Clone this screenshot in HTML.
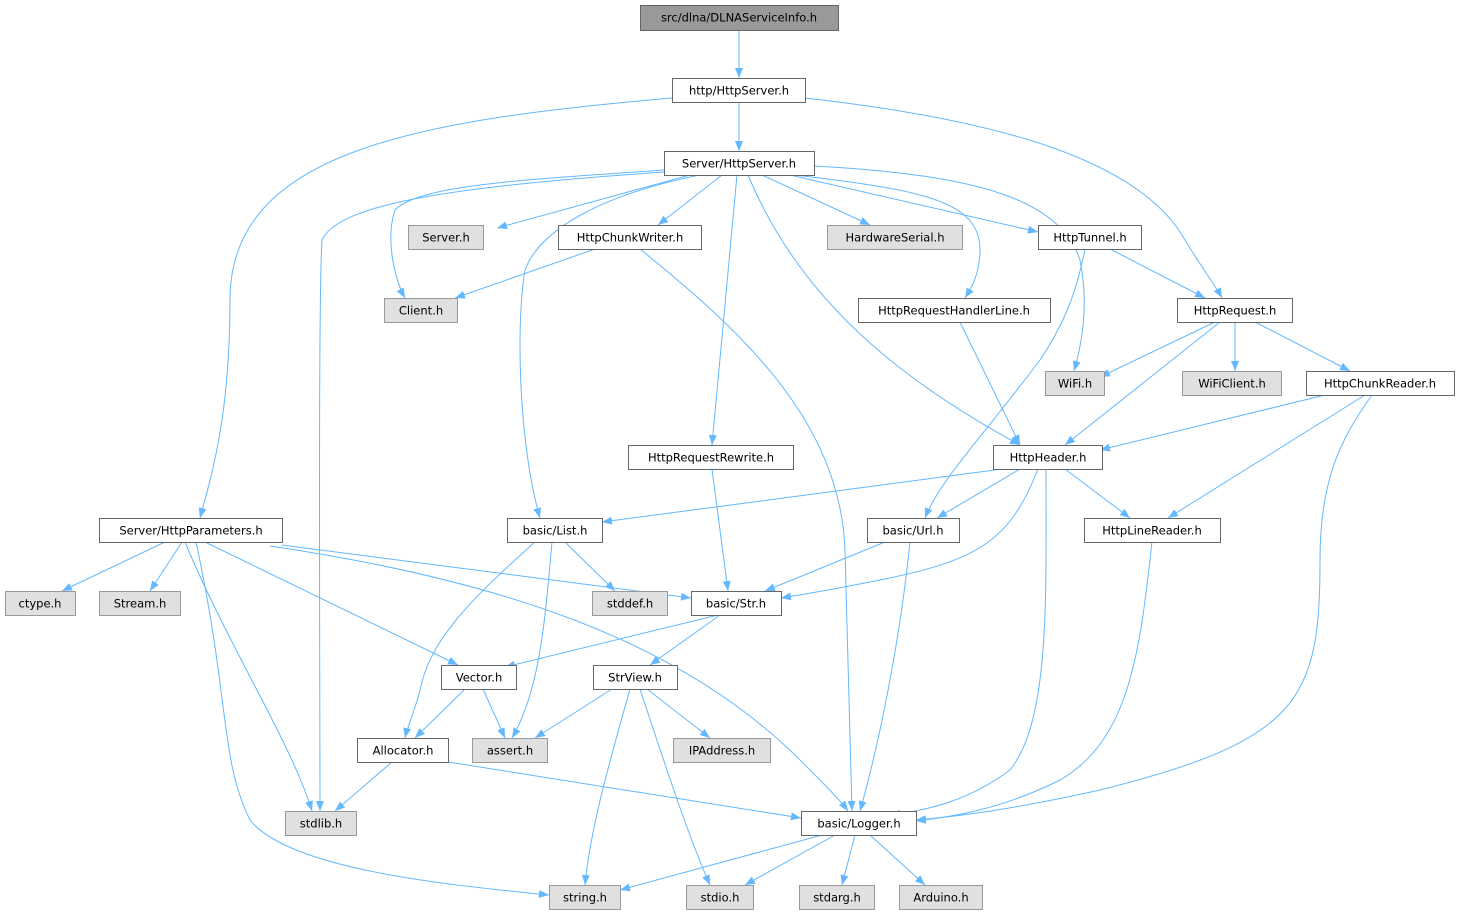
<!DOCTYPE html>
<html><head><meta charset="utf-8"><style>
html,body{margin:0;padding:0;background:#fff;}
svg{display:block}
text{font-family:"DejaVu Sans","Liberation Sans",sans-serif;font-size:11.5px;fill:#000;text-anchor:middle;dominant-baseline:central}
.n{fill:#fff;stroke:#666;stroke-width:1}
.g{fill:#e0e0e0;stroke:#999;stroke-width:1}
.r{fill:#999;stroke:#666;stroke-width:1}
path.e{fill:none;stroke:#63b8ff;stroke-width:1;marker-end:url(#a)}
</style></head><body>
<svg width="1460" height="916" viewBox="0 0 1460 916">
<defs><marker id="a" markerWidth="12" markerHeight="10" refX="10" refY="4" orient="auto" markerUnits="userSpaceOnUse"><path d="M0,0 L10,4 L0,8 Z" fill="#63b8ff"/></marker></defs>
<g>
<path class="e" d="M739,30 L739,78"/>
<path class="e" d="M739,102 L739,151"/>
<path class="e" d="M672,98 C420,120 230,150 230,300 C230,420 210,480 200,518"/>
<path class="e" d="M805,98 C1000,120 1140,160 1185,240 C1200,265 1215,285 1222,298"/>
<path class="e" d="M690,175 L497,228"/>
<path class="e" d="M722,175 L658,225"/>
<path class="e" d="M762,175 L870,225"/>
<path class="e" d="M790,175 L1038,232"/>
<path class="e" d="M664,170 C520,180 420,185 395,210 C385,240 395,280 405,298"/>
<path class="e" d="M664,172 C480,185 340,200 322,240 C318,300 320,700 320,811"/>
<path class="e" d="M700,175 C600,195 540,230 525,270 C515,330 520,450 540,518"/>
<path class="e" d="M737,175 L712,445"/>
<path class="e" d="M748,175 C800,300 900,380 1020,445"/>
<path class="e" d="M795,175 C920,190 980,200 980,250 C980,275 970,290 965,298"/>
<path class="e" d="M814,166 C980,175 1060,200 1080,260 C1090,310 1080,350 1074,371"/>
<path class="e" d="M595,249 L455,298"/>
<path class="e" d="M640,249 C740,330 840,420 845,550 C848,680 850,760 852,811"/>
<path class="e" d="M1110,249 L1205,298"/>
<path class="e" d="M1085,249 C1075,300 1060,330 1040,360 C980,440 940,480 925,518"/>
<path class="e" d="M960,322 L1020,445"/>
<path class="e" d="M1215,322 L1100,377"/>
<path class="e" d="M1235,322 L1235,371"/>
<path class="e" d="M1255,322 L1350,371"/>
<path class="e" d="M1220,322 L1065,445"/>
<path class="e" d="M1325,395 L1100,450"/>
<path class="e" d="M1365,395 L1168,518"/>
<path class="e" d="M1372,395 C1340,440 1320,480 1320,560 C1320,700 1300,740 1100,790 C1000,812 950,817 916,820"/>
<path class="e" d="M712,469 L728,591"/>
<path class="e" d="M995,470 L602,522"/>
<path class="e" d="M1020,469 L937,518"/>
<path class="e" d="M1065,469 L1130,518"/>
<path class="e" d="M1038,469 C1010,540 980,560 880,580 C830,590 800,595 781,598"/>
<path class="e" d="M1046,469 C1046,600 1050,720 1010,770 C970,800 930,810 890,815"/>
<path class="e" d="M165,542 L62,591"/>
<path class="e" d="M182,542 L150,591"/>
<path class="e" d="M282,545 L691,598"/>
<path class="e" d="M205,542 L458,665"/>
<path class="e" d="M270,546 C500,580 680,640 800,760 C825,785 840,800 848,811"/>
<path class="e" d="M185,542 C230,650 290,740 312,811"/>
<path class="e" d="M196,542 C230,700 220,760 250,820 C290,870 450,885 549,895"/>
<path class="e" d="M565,542 L615,591"/>
<path class="e" d="M552,542 C545,620 540,690 512,738"/>
<path class="e" d="M535,542 C470,600 430,640 420,690 C415,710 408,725 405,738"/>
<path class="e" d="M885,542 L765,591"/>
<path class="e" d="M910,542 C900,640 880,740 860,811"/>
<path class="e" d="M1152,542 C1140,650 1130,740 1060,780 C1000,810 950,817 916,821"/>
<path class="e" d="M718,615 L505,667"/>
<path class="e" d="M720,615 L650,665"/>
<path class="e" d="M465,689 L415,738"/>
<path class="e" d="M483,689 L505,738"/>
<path class="e" d="M612,689 L535,738"/>
<path class="e" d="M647,689 L710,738"/>
<path class="e" d="M630,689 C610,760 590,830 585,885"/>
<path class="e" d="M640,689 C670,780 690,840 710,885"/>
<path class="e" d="M392,762 L335,811"/>
<path class="e" d="M448,762 L801,818"/>
<path class="e" d="M822,835 L620,890"/>
<path class="e" d="M835,835 L745,885"/>
<path class="e" d="M855,835 L842,885"/>
<path class="e" d="M870,835 L925,885"/>
</g>
<g>
<rect class="r" x="640.5" y="5.5" width="198" height="25"/><text x="739" y="17.5">src/dlna/DLNAServiceInfo.h</text>
<rect class="n" x="672.5" y="78.5" width="133" height="24"/><text x="739" y="90.5">http/HttpServer.h</text>
<rect class="n" x="664.5" y="151.5" width="150" height="24"/><text x="739" y="163.5">Server/HttpServer.h</text>
<rect class="g" x="408.5" y="225.5" width="75" height="24"/><text x="446" y="237.5">Server.h</text>
<rect class="n" x="558.5" y="225.5" width="143" height="24"/><text x="630" y="237.5">HttpChunkWriter.h</text>
<rect class="g" x="827.5" y="225.5" width="135" height="24"/><text x="895" y="237.5">HardwareSerial.h</text>
<rect class="n" x="1038.5" y="225.5" width="103" height="24"/><text x="1090" y="237.5">HttpTunnel.h</text>
<rect class="g" x="384.5" y="298.5" width="73" height="24"/><text x="421" y="310.5">Client.h</text>
<rect class="n" x="858.5" y="298.5" width="192" height="24"/><text x="954" y="310.5">HttpRequestHandlerLine.h</text>
<rect class="n" x="1177.5" y="298.5" width="115" height="24"/><text x="1235" y="310.5">HttpRequest.h</text>
<rect class="g" x="1045.5" y="371.5" width="59" height="24"/><text x="1075" y="383.5">WiFi.h</text>
<rect class="g" x="1182.5" y="371.5" width="99" height="24"/><text x="1232" y="383.5">WiFiClient.h</text>
<rect class="n" x="1306.5" y="371.5" width="148" height="24"/><text x="1380" y="383.5">HttpChunkReader.h</text>
<rect class="n" x="628.5" y="445.5" width="165" height="24"/><text x="711" y="457.5">HttpRequestRewrite.h</text>
<rect class="n" x="993.5" y="445.5" width="109" height="24"/><text x="1048" y="457.5">HttpHeader.h</text>
<rect class="n" x="99.5" y="518.5" width="183" height="24"/><text x="191" y="530.5">Server/HttpParameters.h</text>
<rect class="n" x="507.5" y="518.5" width="95" height="24"/><text x="555" y="530.5">basic/List.h</text>
<rect class="n" x="867.5" y="518.5" width="92" height="24"/><text x="913" y="530.5">basic/Url.h</text>
<rect class="n" x="1084.5" y="518.5" width="136" height="24"/><text x="1152" y="530.5">HttpLineReader.h</text>
<rect class="g" x="5.5" y="591.5" width="70" height="24"/><text x="40" y="603.5">ctype.h</text>
<rect class="g" x="99.5" y="591.5" width="81" height="24"/><text x="140" y="603.5">Stream.h</text>
<rect class="g" x="592.5" y="591.5" width="75" height="24"/><text x="630" y="603.5">stddef.h</text>
<rect class="n" x="691.5" y="591.5" width="90" height="24"/><text x="736" y="603.5">basic/Str.h</text>
<rect class="n" x="441.5" y="665.5" width="75" height="24"/><text x="479" y="677.5">Vector.h</text>
<rect class="n" x="593.5" y="665.5" width="84" height="24"/><text x="635" y="677.5">StrView.h</text>
<rect class="n" x="357.5" y="738.5" width="91" height="24"/><text x="403" y="750.5">Allocator.h</text>
<rect class="g" x="472.5" y="738.5" width="75" height="24"/><text x="510" y="750.5">assert.h</text>
<rect class="g" x="673.5" y="738.5" width="97" height="24"/><text x="722" y="750.5">IPAddress.h</text>
<rect class="g" x="285.5" y="811.5" width="71" height="24"/><text x="321" y="823.5">stdlib.h</text>
<rect class="n" x="801.5" y="811.5" width="115" height="24"/><text x="859" y="823.5">basic/Logger.h</text>
<rect class="g" x="549.5" y="885.5" width="71" height="24"/><text x="585" y="897.5">string.h</text>
<rect class="g" x="686.5" y="885.5" width="67" height="24"/><text x="720" y="897.5">stdio.h</text>
<rect class="g" x="799.5" y="885.5" width="75" height="24"/><text x="837" y="897.5">stdarg.h</text>
<rect class="g" x="899.5" y="885.5" width="83" height="24"/><text x="941" y="897.5">Arduino.h</text>
</g>
</svg>
</body></html>
